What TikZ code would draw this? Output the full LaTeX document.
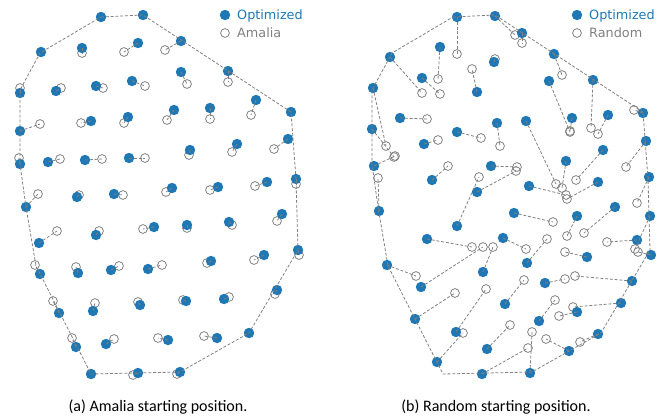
\documentclass[tikz,border=0pt]{standalone}
\usepackage{fontspec}
\setmainfont{Carlito}
\newfontfamily\legendfont{DejaVu Sans}
\usetikzlibrary{
    positioning,   % Relative positioning
    calc           % Coordinate calculations
}
\definecolor{OptBlue}{HTML}{1F77B4}
\definecolor{LinkGray}{RGB}{128,128,128}
\tikzset{opt site/.style={
    circle,
    fill=OptBlue,
    inner sep=0pt,
    minimum size=10.4pt
}}
\tikzset{start site/.style={
    circle,
    draw=LinkGray,
    line width=0.8pt,
    inner sep=0pt,
    minimum size=8.8pt
}}
\tikzset{pair link/.style={
    draw=LinkGray,
    line width=0.8pt,
    dash pattern=on 3pt off 1.8pt
}}
\tikzset{site edge/.style={
    pair link
}}
\tikzset{legend text/.style={
    font=\legendfont\fontsize{12.8}{14}\selectfont,
    anchor=base west,
    inner sep=0pt
}}
\tikzset{caption text/.style={
    font=\fontsize{16}{18}\selectfont,
    anchor=base,
    inner sep=0pt
}}
% site boundary, left panel coordinates
\newcommand{\siteboundary}{(101,17) -- (143,15) -- (291,112) -- (296,179) -- (298,250) -- (249,333) -- (180,372) -- (91,374) -- (36,266) -- (26,207) -- (20,164) -- (20,90) -- (40,53) -- cycle}
% id / optimized x,y / start x,y
\newcommand{\amaliapairs}{1/101/17/101/17, 2/143/15/143/15, 3/41/52/41/52, 4/82/48/82/53,
  5/138/43/124/52, 6/181/41/165/50, 7/20/93/20/88, 8/56/91/61/88, 9/96/86/103/88,
  10/132/81/145/86, 11/181/72/187/84, 12/228/71/228/82, 13/20/131/40/124, 14/91/121/81/123,
  15/128/117/124/123, 16/174/110/167/120, 17/210/108/210/119, 18/256/100/251/115,
  19/291/112/291/112, 20/20/164/19/158, 21/48/162/60/159, 22/85/160/102/159,
  23/129/158/145/158, 24/190/150/189/155, 25/237/144/232/152, 26/288/139/274/149,
  27/26/207/38/194, 28/77/197/79/195, 29/114/194/123/195, 30/172/188/166/192,
  31/218/187/210/190, 32/267/182/255/186, 33/296/179/296/184, 34/39/243/57/231,
  35/96/235/99/231, 36/154/227/143/229, 37/187/225/187/228, 38/229/222/232/225,
  39/282/214/277/221, 40/40/274/35/265, 41/78/273/76/267, 42/111/270/119/266,
  43/148/269/162/265, 44/211/261/207/263, 45/264/255/254/260, 46/298/250/299/255,
  47/59/313/53/301, 48/93/311/95/303, 49/140/305/138/302, 50/186/301/183/300,
  51/224/299/229/297, 52/277/290/275/294, 53/76/347/72/338, 54/106/344/114/339,
  55/168/340/158/338, 56/217/338/204/336, 57/249/333/249/333, 58/91/374/91/374,
  59/138/373/133/375, 60/180/372/177/374}
\newcommand{\randompairs}{1/457/17/457/54, 2/495/16/515/35, 3/522/33/522/43, 4/390/57/422/93,
  5/440/47/438/79, 6/494/62/495/59, 7/554/54/562/75, 8/422/78/440/94, 9/477/92/472/69,
  10/549/81/570/132, 11/593/80/591/128, 12/608/115/598/134, 13/643/113/634/110,
  14/646/141/626/167, 15/526/121/556/184, 16/497/123/500/146, 17/400/118/427/119,
  18/373/88/386/146, 19/372/129/394/157, 20/374/166/395/156, 21/379/211/378/178,
  22/424/144/438/140, 23/457/132/481/138, 24/432/180/448/166, 25/491/166/517/167,
  26/477/192/516/171, 27/457/226/479/177, 28/566/161/562/188, 29/603/150/576/180,
  30/598/182/567/199, 31/529/186/566/195, 32/649/177/637/203, 33/572/118/570/131,
  34/615/207/584/233, 35/577/216/567/236, 36/514/213/553/222, 37/503/238/526/249,
  38/527/263/547/239, 39/587/257/565/252, 40/427/239/472/247, 41/421/287/483/247,
  42/483/272/493/247, 43/387/265/416/276, 44/650/216/635/249, 45/637/240/607/242,
  46/651/255/638/252, 47/632/281/575/276, 48/545/283/565/279, 49/505/304/524/280,
  50/539/321/555/300, 51/621/303/573/307, 52/577/312/559/316, 53/598/334/580/342,
  54/487/349/510/325, 55/530/373/532/332, 56/482/374/528/348, 57/569/351/546/339,
  58/415/319/455/293, 59/456/332/486/289, 60/437/362/463/333}

\begin{document}
\begin{tikzpicture}[x=1pt, y=-1pt]
    \useasboundingbox (0,0) rectangle (656,416);

    % (a) Amalia start
    \foreach \i/\ox/\oy/\ax/\ay in \amaliapairs
        \node[start site] (la\i) at (\ax,\ay) {};
    \foreach \i/\ox/\oy/\ax/\ay in \amaliapairs
        \node[opt site] (lo\i) at (\ox,\oy) {};
    \draw[site edge] \siteboundary;
    \foreach \i in {1,...,60}
        \draw[pair link] (lo\i.center) -- (la\i.center);

    % (b) random start
    \foreach \i/\ox/\oy/\ax/\ay in \randompairs
        \node[start site] (ra\i) at (\ax,\ay) {};
    \foreach \i/\ox/\oy/\ax/\ay in \randompairs
        \node[opt site] (ro\i) at (\ox,\oy) {};
    \begin{scope}[xshift=352pt]
        \draw[site edge] \siteboundary;
    \end{scope}
    \foreach \i in {1,...,60}
        \draw[pair link] (ro\i.center) -- (ra\i.center);

    % legends
    \node[opt site] (optmarkA) at (225,15) {};
    \node[legend text, text=OptBlue] (optlabelA) at (237,19.6) {Optimized};
    \node[start site] (startmarkA) at (225,33) {};
    \node[legend text, text=LinkGray] (startlabelA) at (237,37.6) {Amalia};
    \node[opt site] (optmarkB) at (577,15) {};
    \node[legend text, text=OptBlue] (optlabelB) at (589,19.6) {Optimized};
    \node[start site] (startmarkB) at (577,33) {};
    \node[legend text, text=LinkGray] (startlabelB) at (589,37.6) {Random};

    % captions
    \node[caption text] (capA) at (158,411) {(a) Amalia starting position.};
    \node[caption text] (capB) at (496,411) {(b) Random starting position.};
\end{tikzpicture}
\end{document}
